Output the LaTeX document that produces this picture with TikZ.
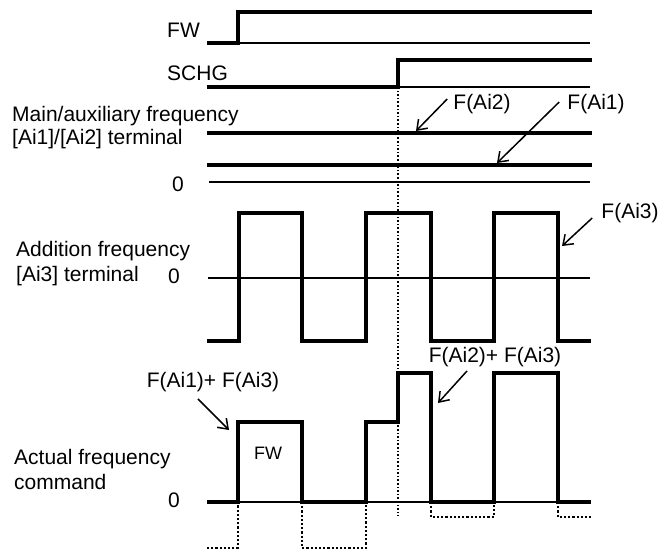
\documentclass[tikz,border=0pt]{standalone}
\usepackage{fontspec}
\setmainfont{Liberation Sans}
\usetikzlibrary{arrows.meta}

\begin{document}
\begin{tikzpicture}[
  x=1pt,y=-1pt,
  every node/.style={font=\fontsize{21}{25}\selectfont,inner sep=0pt},
  sig/.style={line width=3.2pt,line join=miter},
  zeroline/.style={line width=1.2pt},
  hint/.style={line width=1.6pt,dash pattern=on 1.6pt off 2pt},
  negpart/.style={line width=2.6pt,dash pattern=on 2.2pt off 2pt},
  callout/.style={-{Straight Barb[length=9pt,width=13pt]},line width=1.5pt},
]
  \useasboundingbox (0,0) rectangle (666,553);

  % FW
  \node[anchor=west] (fw) at (167,30) {FW};
  \draw[zeroline] (238,43) -- (590,43);
  \draw[sig] (207,43) -- (238,43) -- (238,12) -- (592,12);

  % SCHG
  \node[anchor=west] (schg) at (167,73) {SCHG};
  \draw[zeroline] (398,87) -- (590,87);
  \draw[sig] (207,87) -- (398,87) -- (398,60) -- (592,60);

  % Main/auxiliary frequency
  \node[anchor=west,align=left,font=\fontsize{21}{23}\selectfont] (mainlbl) at (12,128)
    {Main/auxiliary frequency\\{}[Ai1]/[Ai2] terminal};
  \node (mainzero) at (178,184) {0};
  \draw[zeroline] (209,182) -- (590,182);
  \draw[sig] (207,133) -- (592,133);
  \draw[sig] (207,165) -- (592,165);
  \node (fai2) at (482,104) {F(Ai2)};
  \node (fai1) at (596,104) {F(Ai1)};
  \coordinate (tip2) at (416,131);
  \coordinate (tip1) at (497,163);
  \draw[callout] ([shift={(-6,-5)}]fai2.west) -- (tip2);
  \draw[callout] ([shift={(-8,-2)}]fai1.west) -- (tip1);

  % Addition frequency
  \node[anchor=west,align=left] (addlbl) at (16,264) {Addition frequency\\{}[Ai3] terminal};
  \node (addzero) at (174,276) {0};
  \draw[zeroline] (208,278) -- (590,278);
  \draw[sig] (207,341) -- (239,341) -- (239,213) -- (302,213) -- (302,341)
    -- (366,341) -- (366,213) -- (431,213) -- (431,341) -- (494,341)
    -- (494,213) -- (558,213) -- (558,341) -- (591,341);
  \node (fai3) at (630,213) {F(Ai3)};
  \coordinate (tip3) at (562,246);
  \draw[callout] ([shift={(-9,5)}]fai3.west) -- (tip3);

  % Actual frequency command
  \node[anchor=west,align=left] (actlbl) at (14,469) {Actual frequency\\command};
  \node (actzero) at (174,500) {0};
  \draw[zeroline] (207,502) -- (591,502);
  \draw[sig] (207,502) -- (238,502) -- (238,422) -- (302,422) -- (302,502)
    -- (366,502) -- (366,422) -- (398,422) -- (398,373) -- (431,373)
    -- (431,502) -- (494,502) -- (494,373) -- (558,373) -- (558,502) -- (591,502);
  \draw[negpart] (207,548) -- (238,548) -- (238,502);
  \draw[negpart] (302,502) -- (302,548) -- (366,548) -- (366,502);
  \draw[negpart] (431,502) -- (431,517) -- (494,517) -- (494,502);
  \draw[negpart] (558,502) -- (558,517) -- (592,517);
  \node[font=\fontsize{18}{22}\selectfont] (fwpulse) at (268,453) {FW};
  \node (fsum1) at (213,382) {F(Ai1)+ F(Ai3)};
  \node (fsum2) at (495,357) {F(Ai2)+ F(Ai3)};
  \coordinate (tip4) at (229,430);
  \coordinate (tip5) at (438,403);
  \draw[callout] ([shift={(-15,7)}]fsum1.south) -- (tip4);
  \draw[callout] ([shift={(-28,4)}]fsum2.south) -- (tip5);

  % SCHG switching instant
  \draw[hint] (398,87) -- (398,516);
\end{tikzpicture}
\end{document}
